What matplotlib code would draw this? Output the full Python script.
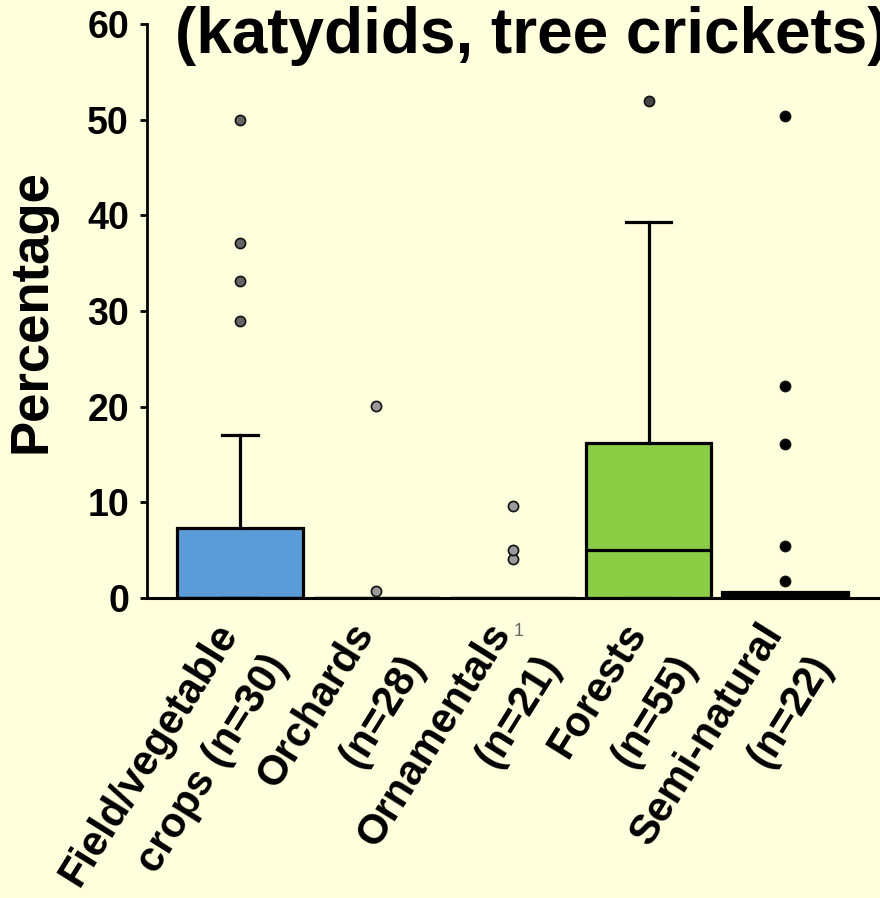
import matplotlib
matplotlib.use("Agg")
import matplotlib.pyplot as plt
import matplotlib.transforms as mtransforms

plt.rcParams['font.family'] = ['Liberation Sans', 'DejaVu Sans']

# data
categories = ["Field/vegetable\ncrops (n=30)", "Orchards\n(n=28)", "Ornamentals\n(n=21)",
              "Forests\n(n=55)", "Semi-natural\n(n=22)"]
q1 = [0, 0, 0, 0, 0]
medians = [0, 0, 0, 5.0, 0]
q3 = [7.3, 0, 0, 16.2, 0.6]
whisk_hi = [17.0, 0, 0, 39.3, 0.6]
outliers = [
    [29.0, 33.1, 37.1, 50.0],
    [0.7, 20.1],
    [4.1, 5.0, 9.6],
    [52.0],
    [1.8, 5.4, 16.1, 22.2, 50.4],
]

bg = "#FFFFDD"
box_colors = ["#5B9BD8", "none", "none", "#8CCD46", "black"]
flier_face = ["#666666", "#9A9A9A", "#9A9A9A", "#444444", "#000000"]
cap_w = [0.27, 0, 0, 0.33, 0]

fig = plt.figure(figsize=(8.8, 8.98), dpi=100, facecolor=bg)
ax = fig.add_axes([147 / 880, 1 - 598 / 898, 1 - 147 / 880, (598 - 24) / 898])
ax.set_facecolor(bg)

for i in range(len(categories)):
    stats = [dict(med=medians[i], q1=q1[i], q3=q3[i], whislo=q1[i],
                  whishi=whisk_hi[i], fliers=outliers[i])]
    ax.bxp(stats, positions=[i], widths=0.92, patch_artist=True,
           capwidths=cap_w[i] if cap_w[i] > 0 else 0.01,
           boxprops=dict(facecolor=box_colors[i], edgecolor="black", linewidth=2.3),
           medianprops=dict(color="black", linewidth=2.3),
           whiskerprops=dict(color="black", linewidth=2.3),
           capprops=dict(color="black", linewidth=2.3 if cap_w[i] > 0 else 0),
           flierprops=dict(marker="o", markerfacecolor=flier_face[i],
                           markeredgecolor="#111111", markeredgewidth=1.2,
                           markersize=7.3, linestyle="none"))

ax.set_xlim(-0.683, 4.697)
ax.set_ylim(0, 60)
ax.set_yticks([0, 10, 20, 30, 40, 50, 60])
ax.tick_params(axis="y", labelsize=27, width=2, length=5, pad=8)
for t in ax.get_yticklabels():
    t.set_fontweight("bold")
ax.set_ylabel("Percentage", fontsize=38, fontweight="bold", labelpad=22)

ax.set_xticks(range(len(categories)))
ax.set_xticklabels(categories, rotation=58, ha="right", va="center",
                   rotation_mode="anchor", fontsize=30, fontweight="bold",
                   linespacing=1.6)
ax.tick_params(axis="x", length=0, pad=32)
shift = mtransforms.ScaledTranslation(14 / 100, 0, fig.dpi_scale_trans)
for t in ax.get_xticklabels():
    t.set_transform(t.get_transform() + shift)

for s in ["top", "right"]:
    ax.spines[s].set_visible(False)
ax.spines["left"].set_linewidth(2)
ax.spines["bottom"].set_linewidth(2.2)

fig.text(175 / 880, 1 - 53 / 898, "(katydids, tree crickets)", fontsize=46,
         fontweight="bold", ha="left", va="baseline")
fig.text(519 / 880, 1 - 632 / 898, "1", fontsize=13, color="#666666",
         ha="center", va="center")

fig.savefig("out.png", dpi=100, facecolor=bg)
